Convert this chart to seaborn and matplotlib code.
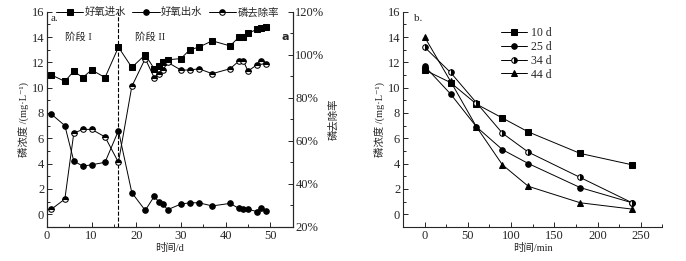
import numpy as np
import matplotlib
matplotlib.use("Agg")
import matplotlib.pyplot as plt
from matplotlib.ticker import MultipleLocator, FuncFormatter
import seaborn as sns
import pandas as pd

sns.set_style("ticks")
plt.rcParams["font.family"] = ["Liberation Serif", "Noto Sans CJK SC", "DejaVu Sans"]
plt.rcParams["axes.linewidth"] = 0.8

# ---- panel a: long-term run ----
days = [1, 4, 6, 8, 10, 13, 16, 19, 22, 24, 25, 26, 27, 30, 32, 34, 37, 41, 43, 44, 45, 47, 48, 49]
influent = [11.0, 10.5, 11.3, 10.8, 11.4, 10.8, 13.2, 11.6, 12.6, 11.5, 11.7, 12.0, 12.2, 12.3,
            13.0, 13.2, 13.7, 13.3, 14.0, 14.0, 14.3, 14.6, 14.7, 14.8]
effluent = [7.9, 7.0, 4.2, 3.8, 3.9, 4.1, 6.6, 1.7, 0.3, 1.4, 1.0, 0.8, 0.35, 0.8,
            0.9, 0.9, 0.65, 0.85, 0.45, 0.4, 0.4, 0.2, 0.5, 0.25]
removal = [28.2, 32.9, 63.5, 65.3, 65.3, 61.8, 50.0, 85.3, 98.2, 89.4, 91.2, 92.9, 96.5, 92.9,
           92.9, 93.5, 91.2, 93.5, 97.1, 97.1, 92.4, 95.3, 97.1, 95.9]
legend_a = ["好氧进水", "好氧出水", "磷去除率"]

# ---- panel b: cycle tests ----
minutes = [0, 30, 60, 90, 120, 180, 240]
d10 = [11.4, 10.4, 8.7, 7.6, 6.5, 4.8, 3.9]
d25 = [11.7, 9.5, 6.9, 5.1, 4.0, 2.1, 0.9]
d34 = [13.2, 11.2, 8.8, 6.4, 4.9, 2.9, 0.9]
d44 = [14.0, 10.5, 6.9, 3.9, 2.2, 0.9, 0.4]
labels_b = ["10 d", "25 d", "34 d", "44 d"]

cjk = ["Noto Sans CJK SC", "Liberation Serif", "DejaVu Sans"]
mixed = ["Liberation Serif", "Noto Sans CJK SC", "DejaVu Sans"]
ylab = "磷浓度 /(mg·L⁻¹)"
lw = 0.7
ms = 4

fig = plt.figure(figsize=(6.86, 2.61), dpi=100)
ax = fig.add_axes([0.0685, 0.131, 0.358, 0.824])
ax2 = ax.twinx()

sns.lineplot(x=days, y=influent, ax=ax, color="black", lw=lw, marker="s", ms=ms,
             mec="black", mfc="black", label=legend_a[0], legend=False)
sns.lineplot(x=days, y=effluent, ax=ax, color="black", lw=lw, marker="o", ms=ms,
             mec="black", mfc="black", label=legend_a[1], legend=False)
sns.lineplot(x=days, y=removal, ax=ax2, color="black", lw=lw, marker="o", ms=ms,
             mec="black", mfc="white", fillstyle="bottom", markerfacecoloralt="black",
             label=legend_a[2], legend=False)

ax.axvline(16, color="black", ls="--", lw=0.8)
ax.set_xlim(0, 55)
ax.set_ylim(-1, 16)
ax2.set_ylim(20, 120)
ax.xaxis.set_major_locator(MultipleLocator(10))
ax.xaxis.set_minor_locator(MultipleLocator(5))
ax.yaxis.set_major_locator(MultipleLocator(2))
ax.yaxis.set_minor_locator(MultipleLocator(1))
ax2.yaxis.set_major_locator(MultipleLocator(20))
ax2.yaxis.set_minor_locator(MultipleLocator(10))
ax2.yaxis.set_major_formatter(FuncFormatter(lambda v, p: f"{v:.0f}%"))
for a in (ax, ax2):
    a.tick_params(which="both", direction="in", labelsize=9, width=0.7, pad=2)
    a.tick_params(which="major", length=3.5)
    a.tick_params(which="minor", length=2)
    a.spines["top"].set_visible(False)
ax.set_xlabel("时间/d", family=mixed, fontsize=7.5, labelpad=1)
ax.set_ylabel(ylab, family=mixed, fontsize=7.5, labelpad=2)
ax2.set_ylabel("磷去除率", family=cjk, fontsize=7.5, rotation=90, labelpad=3)

ax.text(0.8, 15.8, "a.", fontsize=8, va="top")
ax.text(52.5, 14.0, "a", fontsize=8, fontweight="bold", family="DejaVu Sans", va="center")
ax.text(7, 14.0, "阶段 I", family=mixed, fontsize=7.5, ha="center", va="center")
ax.text(23, 14.0, "阶段 II", family=mixed, fontsize=7.5, ha="center", va="center")

h1, l1 = ax.get_legend_handles_labels()
h2, l2 = ax2.get_legend_handles_labels()
leg = ax.legend(h1 + h2, l1 + l2, loc="upper left", bbox_to_anchor=(0.02, 1.04), ncol=3,
                frameon=False, prop={"family": cjk, "size": 7.5}, handlelength=2.6,
                handletextpad=0.15, columnspacing=0.6, borderaxespad=0)

# ---- panel b ----
bx = fig.add_axes([0.5875, 0.131, 0.378, 0.824])
series = [(d10, "s", "full"), (d25, "o", "full"), (d34, "o", "left"), (d44, "^", "full")]
for (vals, mk, fs), lab in zip(series, labels_b):
    sns.lineplot(x=minutes, y=vals, ax=bx, color="black", lw=lw, marker=mk, ms=ms,
                 mec="black", mfc="black" if fs == "full" else "white", fillstyle=fs,
                 markerfacecoloralt="black", label=lab, legend=False)
bx.set_xlim(-25, 275)
bx.set_ylim(-1, 16)
bx.xaxis.set_major_locator(MultipleLocator(50))
bx.xaxis.set_minor_locator(MultipleLocator(25))
bx.yaxis.set_major_locator(MultipleLocator(2))
bx.yaxis.set_minor_locator(MultipleLocator(1))
bx.tick_params(which="both", direction="in", labelsize=9, width=0.7, pad=2)
bx.tick_params(which="major", length=3.5)
bx.tick_params(which="minor", length=2)
sns.despine(ax=bx)
bx.set_xlabel("时间/min", family=mixed, fontsize=7.5, labelpad=1)
bx.set_ylabel(ylab, family=mixed, fontsize=7.5, labelpad=2)
bx.text(-12, 15.8, "b.", fontsize=8, va="top")
bx.legend(loc="upper left", bbox_to_anchor=(0.36, 0.95), frameon=False, fontsize=8.5,
          handlelength=2.2, handletextpad=0.3, labelspacing=0.15, borderaxespad=0)

fig.savefig("out.png", dpi=100)
